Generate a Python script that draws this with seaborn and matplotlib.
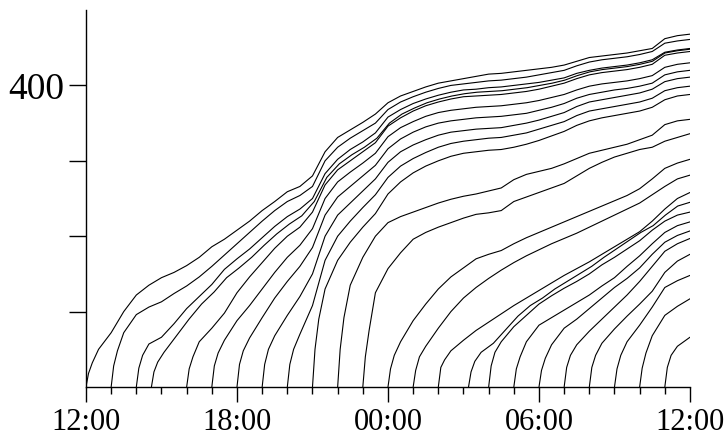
import numpy as np
import pandas as pd
import matplotlib
matplotlib.use("Agg")
import matplotlib.pyplot as plt
import seaborn as sns
from matplotlib.ticker import MultipleLocator

# Hours after 12:00 at which each curve starts
starts = [0, 1, 2, 2.6, 4, 5, 6, 7, 8, 9, 10, 11,
          12, 13, 14, 15.2, 16, 17, 18, 19, 20, 21, 22, 23]

# Values: start, +0.1h, +0.25h, then every ~half hour to 12:00
v_1200 = [0, 18, 32, 50, 72, 100, 122, 135, 145, 152, 161, 172, 186, 196, 208, 220,
          234, 246, 259, 266, 280, 312, 331, 341, 351, 362, 377, 386, 392, 398, 403,
          406, 409, 412, 415, 416, 418, 420, 422, 424, 427, 432, 437, 439, 441, 443,
          446, 449, 462, 466, 468]
v_1300 = [0, 28, 48, 72, 96, 106, 113, 124, 134, 146, 160, 175, 190, 205, 220, 234,
          246, 254, 266, 300, 318, 330, 340, 350, 368, 378, 385, 391, 396, 400, 402,
          404, 406, 407, 409, 411, 414, 417, 420, 426, 431, 434, 436, 438, 441, 445,
          456, 459, 461]
v_1400 = [0, 25, 42, 57, 66, 84, 104, 120, 136, 156, 170, 183, 198, 213, 226, 236,
          250, 283, 302, 315, 325, 337, 358, 368, 376, 382, 387, 391, 394, 395, 397,
          398, 400, 402, 404, 407, 410, 416, 420, 423, 425, 427, 430, 434, 444, 447, 449]
v_1435 = [0, 20, 33, 46, 68, 90, 110, 126, 145, 158, 172, 188, 203, 216, 227, 246,
          278, 296, 308, 318, 330, 350, 362, 370, 377, 382, 386, 389, 391, 392, 393,
          395, 397, 400, 403, 407, 413, 418, 421, 423, 425, 428, 432, 443, 446, 448]
v_1600 = [0, 24, 40, 60, 78, 98, 125, 146, 165, 184, 200, 212, 232, 268, 288, 300,
          312, 324, 346, 357, 366, 373, 378, 382, 385, 386, 387, 388, 390, 392, 395,
          399, 403, 409, 414, 417, 419, 421, 424, 428, 440, 443, 445]
v_1700 = [0, 28, 45, 62, 88, 108, 130, 152, 172, 188, 210, 250, 272, 285, 297, 310,
          332, 344, 352, 359, 364, 367, 369, 371, 372, 373, 375, 377, 380, 384, 388,
          394, 399, 402, 404, 406, 409, 413, 424, 428, 430]
v_1800 = [0, 30, 48, 65, 92, 118, 140, 160, 185, 228, 252, 266, 280, 294, 316, 329,
          338, 345, 350, 353, 355, 357, 358, 359, 361, 363, 367, 371, 376, 383, 388,
          391, 394, 396, 399, 403, 414, 418, 420]
v_1900 = [0, 30, 50, 68, 95, 120, 150, 200, 228, 244, 260, 276, 298, 312, 321, 328,
          334, 338, 340, 342, 343, 344, 347, 350, 354, 359, 364, 372, 378, 381, 384,
          387, 390, 395, 405, 409, 411]
v_2000 = [0, 30, 50, 70, 108, 168, 200, 220, 238, 255, 278, 293, 303, 311, 318, 323,
          326, 328, 330, 331, 334, 337, 342, 347, 352, 360, 366, 369, 372, 375, 378,
          383, 393, 397, 399]
v_2100 = [0, 50, 90, 130, 168, 192, 212, 230, 256, 272, 284, 293, 300, 306, 310, 312,
          314, 315, 318, 322, 327, 333, 339, 347, 353, 357, 360, 363, 366, 371, 381,
          386, 388]
v_2200 = [0, 50, 92, 135, 172, 200, 218, 226, 232, 238, 244, 249, 253, 256, 260, 264,
          275, 282, 286, 290, 296, 303, 310, 314, 318, 322, 328, 334, 348, 353, 355]
v_2300 = [0, 40, 75, 125, 157, 178, 196, 205, 212, 218, 224, 229, 231, 234, 246, 252,
          258, 264, 270, 280, 290, 298, 305, 310, 315, 318, 326, 331, 336]
v_0000 = [0, 24, 42, 60, 88, 110, 130, 146, 158, 170, 176, 181, 190, 198, 205, 212,
          219, 226, 233, 240, 247, 254, 263, 276, 290, 297, 302]
v_0100 = [0, 22, 40, 54, 78, 100, 118, 132, 144, 155, 165, 174, 182, 190, 197, 204,
          212, 220, 228, 236, 244, 255, 266, 276, 281]
v_0200 = [0, 26, 36, 48, 62, 75, 86, 97, 108, 118, 128, 138, 148, 157, 166, 176,
          186, 196, 206, 220, 236, 250, 258]
v_0313 = [0, 20, 34, 46, 58, 76, 94, 108, 118, 130, 140, 150, 160, 172, 183, 194,
          205, 214, 228, 240, 245]
v_0400 = [0, 28, 46, 60, 80, 95, 110, 121, 131, 140, 150, 162, 172, 183, 194, 208,
          220, 228, 232]
v_0500 = [0, 24, 40, 60, 82, 92, 102, 112, 122, 134, 145, 160, 174, 190, 205, 214, 219]
v_0600 = [0, 22, 38, 56, 78, 90, 104, 118, 132, 144, 158, 176, 192, 201, 207]
v_0700 = [0, 26, 42, 56, 74, 90, 106, 122, 140, 160, 180, 190, 197]
v_0800 = [0, 26, 42, 58, 77, 94, 110, 127, 152, 167, 176]
v_0900 = [0, 24, 42, 60, 82, 106, 132, 141, 148]
v_1000 = [0, 25, 45, 68, 95, 107, 117]
v_1100 = [0, 26, 42, 54, 66]

lines = [v_1200, v_1300, v_1400, v_1435, v_1600, v_1700, v_1800, v_1900, v_2000,
         v_2100, v_2200, v_2300, v_0000, v_0100, v_0200, v_0313, v_0400, v_0500,
         v_0600, v_0700, v_0800, v_0900, v_1000, v_1100]

x_tick_labels = ["12:00", "18:00", "00:00", "06:00", "12:00"]


def line_times(start, n):
    # dense sampling for the steep start, then even steps up to the right edge
    head = [start, start + 0.1, start + 0.25]
    tail = np.linspace(start + 0.5, 24, n - 3)
    return np.concatenate([head, tail])


frames = []
for i, (start, vals) in enumerate(zip(starts, lines)):
    frames.append(pd.DataFrame({"hours": line_times(start, len(vals)),
                                "count": vals, "line": i}))
df = pd.concat(frames, ignore_index=True)

sns.set_style("ticks")
plt.rcParams["font.family"] = ["Liberation Serif", "DejaVu Serif"]

fig = plt.figure(figsize=(7.25, 4.36), dpi=100)
ax = fig.add_axes([0.1186, 0.1124, 0.8331, 0.8646])

sns.lineplot(data=df, x="hours", y="count", units="line", estimator=None,
             color="black", lw=0.8, legend=False, ax=ax)

sns.despine(ax=ax)
for side in ["left", "bottom"]:
    ax.spines[side].set_linewidth(1.0)
    ax.spines[side].set_color("black")

ax.set_xlim(0, 24)
ax.set_ylim(0, 500)
ax.set_xticks([0, 6, 12, 18, 24])
ax.set_xticklabels(x_tick_labels, fontsize=22)
ax.xaxis.set_minor_locator(MultipleLocator(1))
ax.set_yticks([100, 200, 300, 400])
ax.set_yticklabels(["", "", "", "400"], fontsize=27)
ax.tick_params(axis="x", which="major", length=11, width=1.0, pad=4, colors="black")
ax.tick_params(axis="x", which="minor", length=5, width=1.0, colors="black")
ax.tick_params(axis="y", which="major", length=12, width=1.0, pad=4, colors="black")
ax.set_xlabel("")
ax.set_ylabel("")

fig.savefig("out.png", dpi=100)
